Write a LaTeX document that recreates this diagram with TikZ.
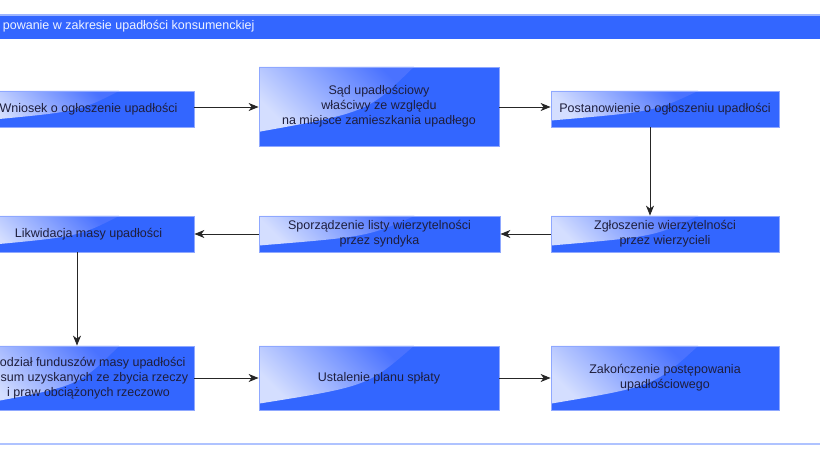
\documentclass[tikz,border=0pt]{standalone}
\usepackage{fontspec}
\setmainfont{Liberation Sans}
\usetikzlibrary{arrows.meta,calc}
\definecolor{boxblue}{HTML}{3366FF}
\definecolor{boxedge}{HTML}{8FA8FF}
\definecolor{txtdark}{HTML}{1E1E3C}
\definecolor{headtxt}{HTML}{EEF2FF}
\definecolor{headline}{HTML}{9DB5FF}
\definecolor{rulelight}{HTML}{AFC3FF}
\definecolor{glossL}{HTML}{D4DEFF}
\definecolor{glossM}{HTML}{6A8BFF}
\definecolor{glossR}{HTML}{4A72FF}
\tikzset{
  procbox/.style={rectangle, draw=boxedge, line width=0.8pt, fill=boxblue,
    text=txtdark, align=center, inner sep=0pt,
    font=\fontsize{12.5}{15}\selectfont,
    path picture={
      \coordinate (gNW) at (path picture bounding box.north west);
      \coordinate (gNE) at (path picture bounding box.north east);
      \coordinate (gSW) at (path picture bounding box.south west);
      \coordinate (gA) at ($(gNW)!0.645!(gNE)$);
      \coordinate (gB) at ($(gNW)!#1!(gSW)$);
      \coordinate (gC) at (gA|-gB);
      \coordinate (gK) at ($(gA)!0.5!(gB)!0.4!(gC)$);
      \shade[top color=glossL, middle color=glossM, bottom color=glossR, shading angle=135]
        (gNW) -- (gA) .. controls (gK) .. (gB) -- cycle;
    }},
  procbox/.default=0.82,
  flow/.style={draw=black!85, line width=0.9pt, -{Stealth[length=10pt,width=8pt,inset=3pt]}},
  headbar/.style={rectangle, fill=boxblue, draw=none, inner sep=0pt},
  headtext/.style={text=headtxt, inner sep=0pt, font=\fontsize{12.5}{15}\selectfont},
}
\begin{document}
\begin{tikzpicture}[x=1pt,y=-1pt]
\useasboundingbox (0,0) rectangle (820,462);
\fill[white] (0,0) rectangle (820,462);

% header
\node[headbar, minimum width=820pt, minimum height=24pt] (hdr) at (410,27) {};
\draw[headline, line width=1.5pt] (hdr.north west) -- (hdr.north east);
\node[headtext, anchor=base west] (htxt) at (2.7,30) {powanie w zakresie upadłości konsumenckiej};

% bottom rule
\draw[rulelight, line width=2pt] (0,444) -- (820,444);

% row 1
\node[procbox, minimum width=211pt, minimum height=36pt] (A) at (88.5,109) {Wniosek o ogłoszenie upadłości};
\node[procbox, minimum width=240pt, minimum height=79pt] (B) at (379,106.5) {Sąd upadłościowy\\właściwy ze względu\\na miejsce zamieszkania upadłego};
\node[procbox, minimum width=228pt, minimum height=36pt] (C) at (665,109) {Postanowienie o ogłoszeniu upadłości};

% row 2
\node[procbox, minimum width=211pt, minimum height=36pt] (D) at (88.5,234) {Likwidacja masy upadłości};
\node[procbox, minimum width=241pt, minimum height=36pt] (E) at (379.5,234) {Sporządzenie listy wierzytelności\\przez syndyka};
\node[procbox, minimum width=228pt, minimum height=36pt] (F) at (665,234) {Zgłoszenie wierzytelności\\przez wierzycieli};

% row 3
\node[procbox=0.9, minimum width=211pt, minimum height=64pt] (G) at (88.5,378) {\phantom{P}odział funduszów masy upadłości\\\hspace*{11.7pt}sum uzyskanych ze zbycia rzeczy\\i praw obciążonych rzeczowo};
\node[procbox=0.9, minimum width=240pt, minimum height=64pt] (H) at (379,378) {Ustalenie planu spłaty};
\node[procbox=0.9, minimum width=228pt, minimum height=64pt] (I) at (665,378) {Zakończenie postępowania\\upadłościowego};

% levels for connectors
\coordinate (y1) at (0,107);
\coordinate (y2) at (0,234);
\coordinate (y3) at (0,378);
\coordinate (xr) at (650,0);
\coordinate (xl) at (77,0);

\draw[flow] (A.east |- y1) -- (B.west |- y1);
\draw[flow] (B.east |- y1) -- (C.west |- y1);
\draw[flow] (xr |- C.south) -- (xr |- F.north);
\draw[flow] (F.west |- y2) -- (E.east |- y2);
\draw[flow] (E.west |- y2) -- (D.east |- y2);
\draw[flow] (xl |- D.south) -- (xl |- G.north);
\draw[flow] (G.east |- y3) -- (H.west |- y3);
\draw[flow] (H.east |- y3) -- (I.west |- y3);
\end{tikzpicture}
\end{document}
